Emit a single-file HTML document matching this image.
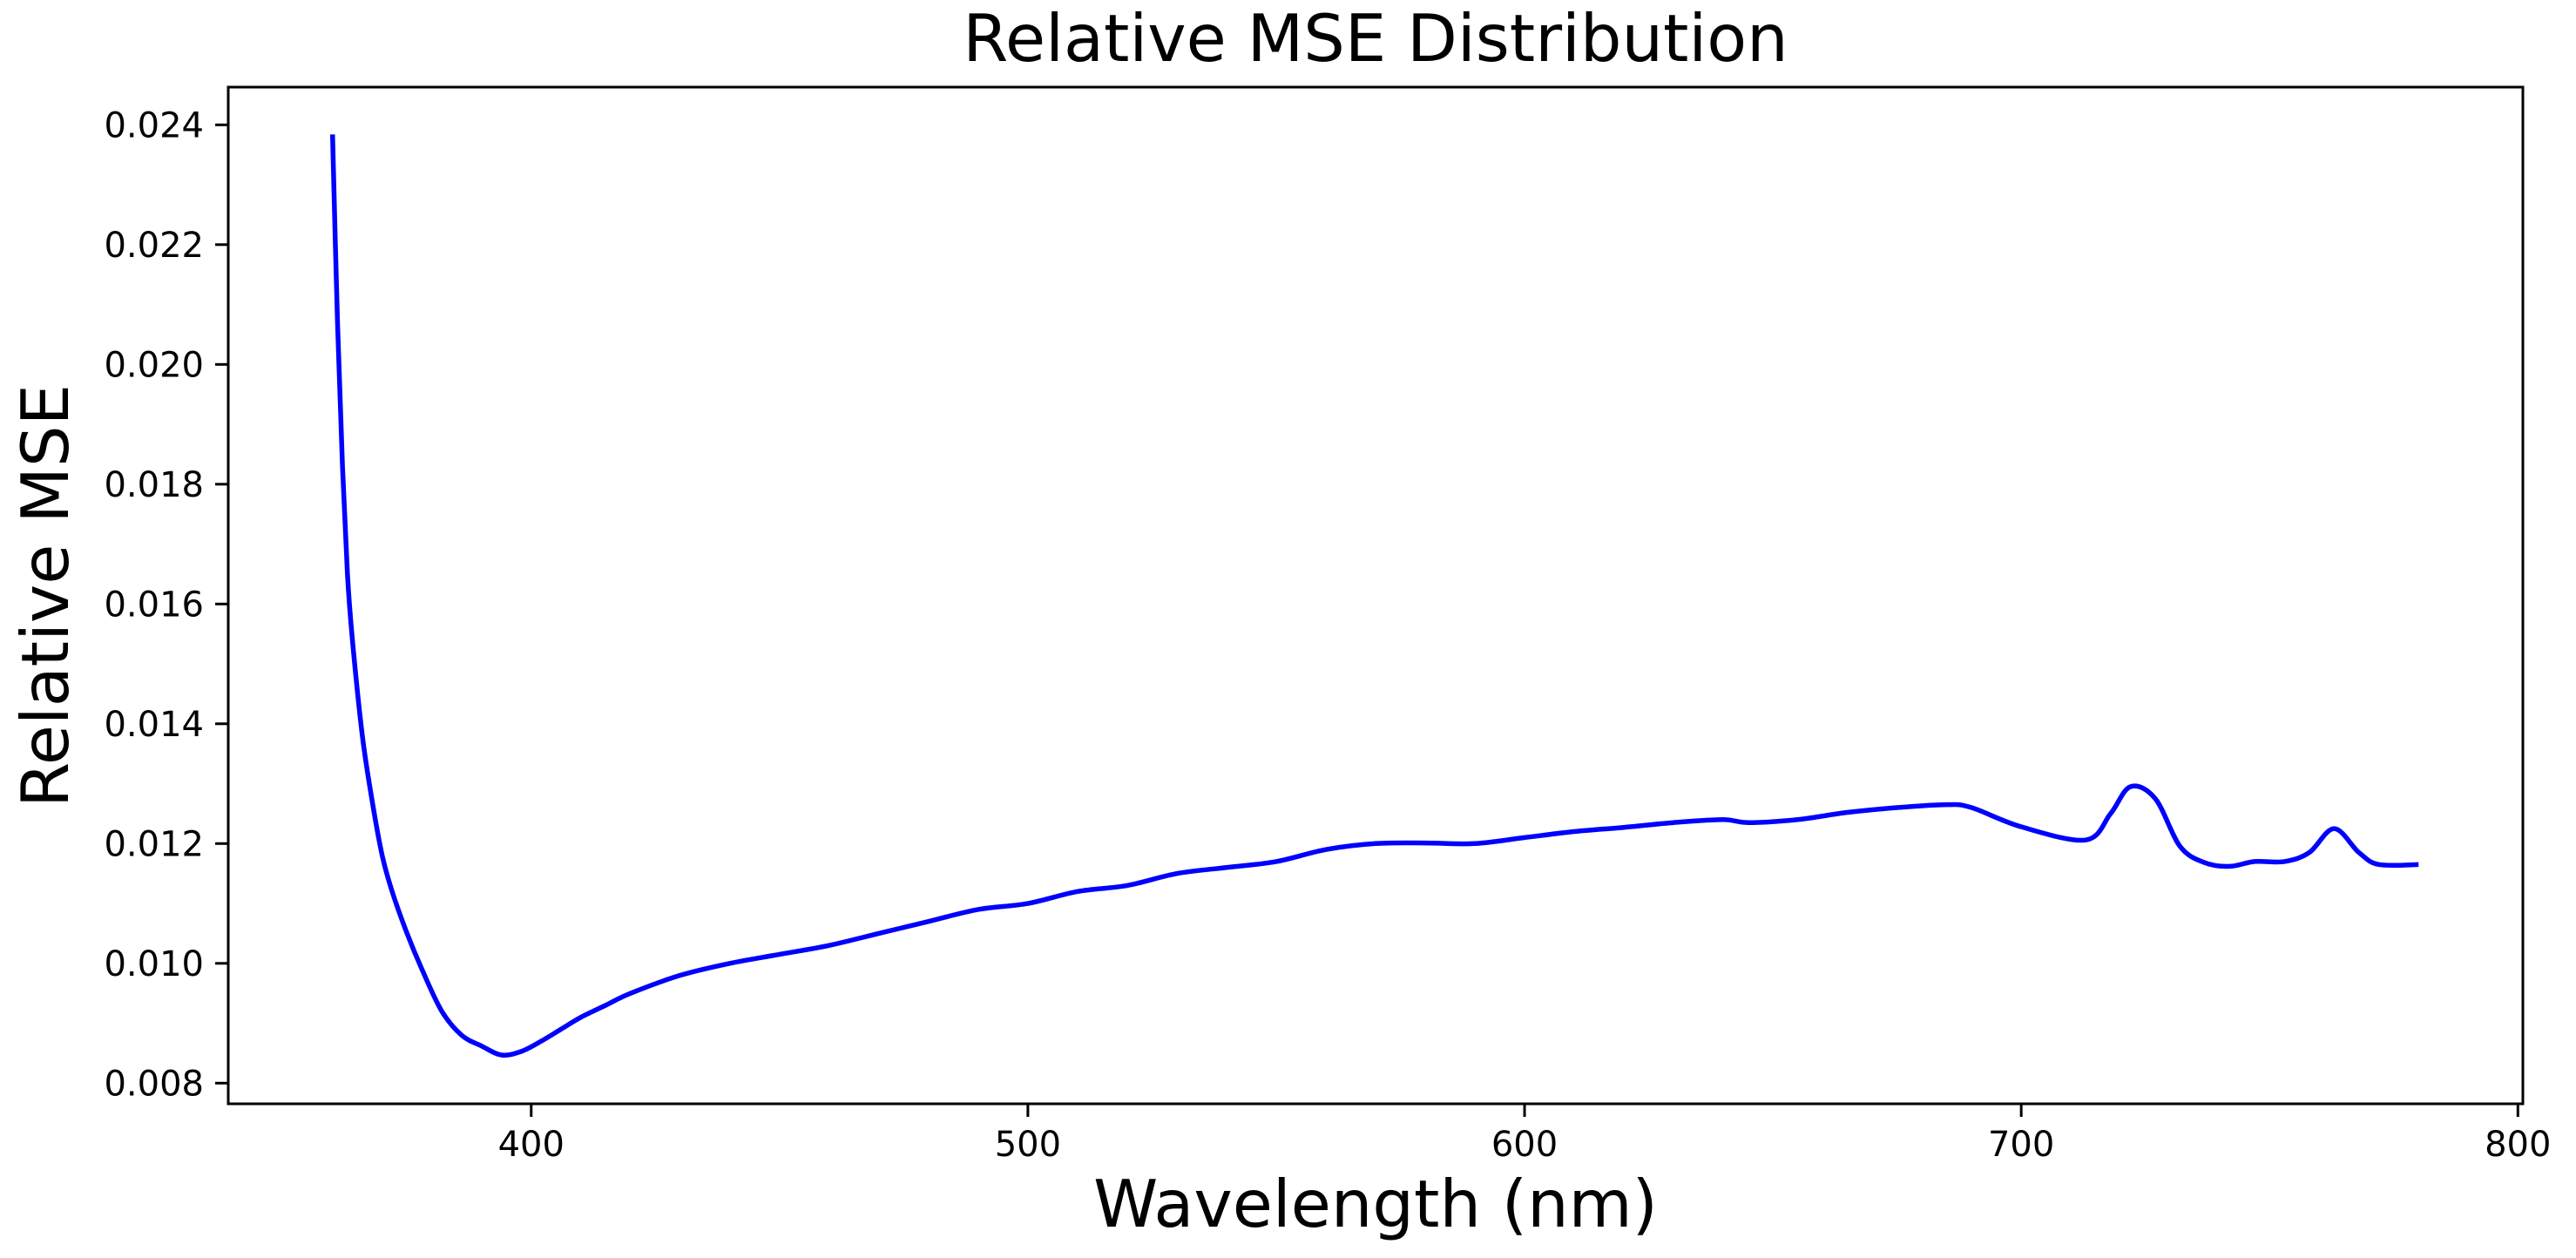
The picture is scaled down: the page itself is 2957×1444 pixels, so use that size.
<!DOCTYPE html>
<html><head><meta charset="utf-8"><style>
html,body{margin:0;padding:0;background:#fff;}
svg{display:block;font-family:"DejaVu Sans","Liberation Sans",sans-serif;}
</style></head><body>
<svg id="chart" width="2957" height="1444" viewBox="0 0 2957 1444">
<rect width="2957" height="1444" fill="#fff"/>
<text x="1579" y="70" font-size="75" text-anchor="middle">Relative MSE Distribution</text>
<text x="1579" y="1408" font-size="75" text-anchor="middle">Wavelength (nm)</text>
<text transform="translate(78,684) rotate(-90)" font-size="75" text-anchor="middle">Relative MSE</text>
<g id="ticks"></g>
<g id="plot"></g>
<rect x="262" y="100" width="2634" height="1167" fill="none" stroke="#000" stroke-width="3"/>
</svg>
<script>
const wavelengths=[360,361,362,363,364,366,368,370,372,375,378,382,386,390,394,398,402,406,410,415,420,430,440,450,460,470,480,490,500,510,520,530,540,550,560,570,580,590,600,610,620,630,640,645,655,665,675,685,690,700,713,718,722,727,732,737,742,747,753,758,763,768,772,780];
const mseValues=[0.02384,0.0207,0.0183,0.0165,0.0154,0.0138,0.0127,0.0118,0.0112,0.0105,0.0099,0.0092,0.0088,0.00862,0.00847,0.00853,0.0087,0.0089,0.0091,0.0093,0.0095,0.0098,0.0100,0.01015,0.0103,0.0105,0.0107,0.0109,0.0110,0.0112,0.0113,0.0115,0.0116,0.0117,0.0119,0.0120,0.01201,0.0120,0.0121,0.0122,0.01227,0.01235,0.0124,0.01235,0.0124,0.01252,0.0126,0.01265,0.0126,0.01228,0.01206,0.0125,0.01295,0.01275,0.01195,0.01168,0.01162,0.0117,0.0117,0.01185,0.01225,0.01185,0.01165,0.01165];
const xTicks=[400,500,600,700,800];
const yTicks=[0.008,0.010,0.012,0.014,0.016,0.018,0.020,0.022,0.024];
const NS='http://www.w3.org/2000/svg';
const X0=262,X1=2896,Y0=1267,Y1=100,XMIN=339.0,XMAX=801.0,YMIN=0.007655,YMAX=0.024630;
function xs(v){return X0+(v-XMIN)/(XMAX-XMIN)*(X1-X0);}
function ys(v){return Y0-(v-YMIN)/(YMAX-YMIN)*(Y0-Y1);}
const tg=document.getElementById('ticks');
xTicks.forEach(t=>{
  const l=document.createElementNS(NS,'line');
  l.setAttribute('x1',xs(t));l.setAttribute('x2',xs(t));l.setAttribute('y1',Y0);l.setAttribute('y2',Y0+15);
  l.setAttribute('stroke','#000');l.setAttribute('stroke-width','3');
  
  
  tg.appendChild(l);
  const tx=document.createElementNS(NS,'text');
  tx.setAttribute('x',xs(t));tx.setAttribute('y',Y0+60);tx.setAttribute('font-size','40');tx.setAttribute('text-anchor','middle');
  tx.textContent=t;
  
  
  tg.appendChild(tx);
});
yTicks.forEach(t=>{
  const l=document.createElementNS(NS,'line');
  l.setAttribute('x1',X0-15);l.setAttribute('x2',X0);l.setAttribute('y1',ys(t));l.setAttribute('y2',ys(t));
  l.setAttribute('stroke','#000');l.setAttribute('stroke-width','3');
  
  
  tg.appendChild(l);
  const tx=document.createElementNS(NS,'text');
  tx.setAttribute('x',X0-28);tx.setAttribute('y',ys(t)+14);tx.setAttribute('font-size','40');tx.setAttribute('text-anchor','end');
  tx.textContent=t.toFixed(3);
  
  
  tg.appendChild(tx);
});
const pts=wavelengths.map((w,i)=>[xs(w),ys(mseValues[i])]);
let d='M'+pts[0][0]+','+pts[0][1];
for(let i=0;i<pts.length-1;i++){
  const p0=pts[Math.max(0,i-1)],p1=pts[i],p2=pts[i+1],p3=pts[Math.min(pts.length-1,i+2)];
  const c1x=p1[0]+(p2[0]-p0[0])/6,c1y=p1[1]+(p2[1]-p0[1])/6;
  const c2x=p2[0]-(p3[0]-p1[0])/6,c2y=p2[1]-(p3[1]-p1[1])/6;
  d+=' C'+c1x+','+c1y+' '+c2x+','+c2y+' '+p2[0]+','+p2[1];
}
const path=document.createElementNS(NS,'path');
path.setAttribute('d',d);path.setAttribute('fill','none');path.setAttribute('stroke','#0000ff');
path.setAttribute('stroke-width','5.5');path.setAttribute('stroke-linejoin','round');


document.getElementById('plot').appendChild(path);
</script>
</body></html>
